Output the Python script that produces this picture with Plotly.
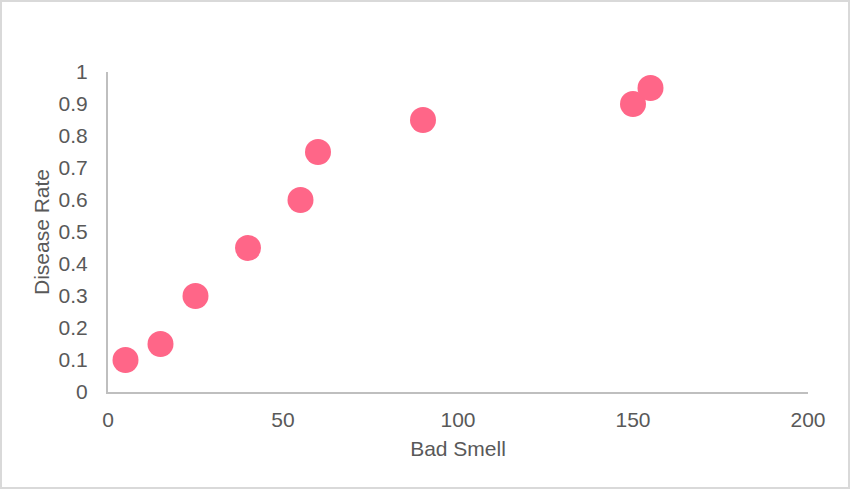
import plotly.graph_objects as go

bad_smell = [5, 15, 25, 40, 55, 60, 90, 150, 155]
disease_rate = [0.1, 0.15, 0.3, 0.45, 0.6, 0.75, 0.85, 0.9, 0.95]

x_ticks = [0, 50, 100, 150, 200]
y_ticks = [0, 0.1, 0.2, 0.3, 0.4, 0.5, 0.6, 0.7, 0.8, 0.9, 1]

W, H = 850, 489
L, R, T, B = 108, 42, 72, 97
pw, ph = W - L - R, H - T - B

fig = go.Figure(go.Scatter(
    x=bad_smell, y=disease_rate, mode="markers",
    marker=dict(size=26, color="#FF6688", line=dict(width=0)),
    hoverinfo="x+y",
))

font = dict(family="Liberation Sans, Arial, sans-serif", size=21, color="#595959")

fig.update_layout(
    width=W, height=H,
    margin=dict(l=L, r=R, t=T, b=B, autoexpand=False),
    paper_bgcolor="white", plot_bgcolor="white",
    showlegend=False,
    font=font,
    xaxis=dict(
        range=[0, 200], tickvals=x_ticks, showgrid=False, zeroline=False,
        showline=True, linecolor="#BFBFBF", linewidth=2,
        ticks="", ticklabelstandoff=8, automargin=False,
        tickfont=font,
        title=dict(text="Bad Smell", font=font, standoff=11),
    ),
    yaxis=dict(
        range=[0, 1], tickvals=y_ticks, showgrid=False, zeroline=False,
        showline=True, linecolor="#BFBFBF", linewidth=2,
        ticks="", ticklabelstandoff=14, automargin=False,
        tickfont=font,
        title=dict(text="Disease Rate", font=font, standoff=3),
    ),
    shapes=[dict(
        type="rect", xref="paper", yref="paper",
        x0=(1 - L) / pw, x1=(W - 1 - L) / pw,
        y0=-(H - 1 - T - ph) / ph, y1=(T - 1) / ph + 1,
        line=dict(color="#D9D9D9", width=2), fillcolor="rgba(0,0,0,0)",
        layer="below",
    )],
)

fig.write_html(
    "out.html",
    config={"displayModeBar": False},
    post_script="document.body.style.margin='0';document.body.style.overflow='hidden';",
)
